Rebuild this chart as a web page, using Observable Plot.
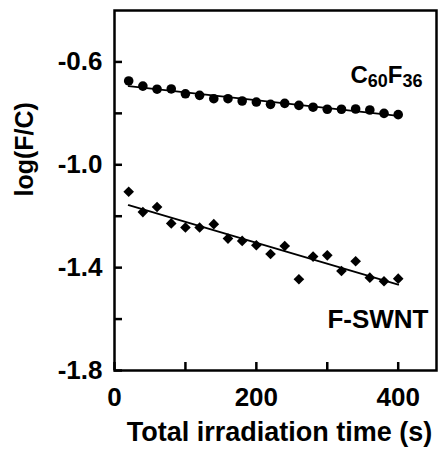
<!DOCTYPE html>
<html>
<head>
<meta charset="utf-8">
<script src="https://cdn.jsdelivr.net/npm/d3@7"></script>
<script src="https://cdn.jsdelivr.net/npm/@observablehq/plot@0.6"></script>
<style>
  html, body { margin: 0; padding: 0; background: #fff; }
  #chart svg { display: block; }
</style>
</head>
<body>
<div id="chart"></div>
<script>
// ---- data ----
const times = [20, 40, 60, 80, 100, 120, 140, 160, 180, 200, 220, 240, 260, 280, 300, 320, 340, 360, 380, 400];
const c60f36 = [-0.674, -0.694, -0.706, -0.705, -0.724, -0.730, -0.743, -0.743, -0.752, -0.756,
                -0.765, -0.761, -0.769, -0.776, -0.784, -0.784, -0.783, -0.787, -0.800, -0.805];
const fswnt = [-1.105, -1.184, -1.164, -1.228, -1.244, -1.244, -1.231, -1.287, -1.296, -1.313,
               -1.347, -1.316, -1.445, -1.357, -1.352, -1.413, -1.375, -1.439, -1.453, -1.443];
const seriesNames = ["C60F36", "F-SWNT"];
const yTicks = [-0.6, -0.8, -1.0, -1.2, -1.4, -1.6, -1.8];
const yLabels = ["-0.6", "-1.0", "-1.4", "-1.8"];
const xTicks = [0, 100, 200, 300, 400];
const xLabels = ["0", "200", "400"];
const xTitle = "Total irradiation time (s)";
const yTitle = "log(F/C)";

const c60Data = times.map((t, i) => ({t, v: c60f36[i]}));
const fsData = times.map((t, i) => ({t, v: fswnt[i]}));

const chart = Plot.plot({
  width: 438,
  height: 450,
  marginLeft: 114,
  marginTop: 10,
  marginRight: 2,
  marginBottom: 80,
  style: {
    fontFamily: "'Liberation Sans', Arial, Helvetica, sans-serif",
    fontWeight: "bold",
    fontSize: "26px",
    color: "#000",
    background: "#fff",
    overflow: "visible"
  },
  x: {domain: [0, 454], label: null},
  y: {domain: [-1.8, -0.4], label: null},
  marks: [
    Plot.frame({stroke: "#000", strokeWidth: 2.5}),
    Plot.axisX({
      ticks: xTicks, tickSize: -8, tickPadding: 25, strokeWidth: 2.5, label: null,
      tickFormat: d => (xLabels.find(l => +l === d) ?? "")
    }),
    Plot.axisY({
      ticks: yTicks, tickSize: -8, tickPadding: 20, strokeWidth: 2.5, label: null,
      tickFormat: d => (yLabels.find(l => +l === d) ?? "")
    }),
    Plot.linearRegressionY(c60Data, {x: "t", y: "v", ci: 0, stroke: "#000", strokeWidth: 1.8}),
    Plot.linearRegressionY(fsData, {x: "t", y: "v", ci: 0, stroke: "#000", strokeWidth: 1.8}),
    Plot.dot(c60Data, {x: "t", y: "v", r: 4.8, fill: "#000", stroke: null}),
    Plot.dot(fsData, {x: "t", y: "v", r: 4.8, symbol: "diamond2", fill: "#000", stroke: null}),
    Plot.text([seriesNames[0]], {
      frameAnchor: "top-right", textAnchor: "end", lineAnchor: "bottom",
      dx: -14, dy: 72, fontSize: 24, fontWeight: "bold"
    }),
    Plot.text([seriesNames[1]], {
      frameAnchor: "bottom-right", textAnchor: "end", lineAnchor: "bottom",
      dx: -8, dy: -43, fontSize: 26, fontWeight: "bold"
    }),
    Plot.text([xTitle], {
      frameAnchor: "bottom", lineAnchor: "top", dx: 4, dy: 51, fontSize: 27, fontWeight: "bold"
    }),
    Plot.text([yTitle], {
      frameAnchor: "left", rotate: -90, lineAnchor: "bottom", dx: -82, dy: 6, fontSize: 25, fontWeight: "bold"
    })
  ]
});

// subscripts for C60F36
d3.select(chart).selectAll("text")
  .filter(function () { return this.textContent === seriesNames[0]; })
  .each(function () {
    const t = d3.select(this);
    t.text("");
    const parts = [["C", 0, 24], ["60", 4, 18], ["F", -4, 24], ["36", 4, 18]];
    parts.forEach(([s, dy, fs]) => {
      t.append("tspan").attr("dy", dy).attr("font-size", fs).text(s);
    });
  });

document.getElementById("chart").append(chart);
</script>
</body>
</html>
